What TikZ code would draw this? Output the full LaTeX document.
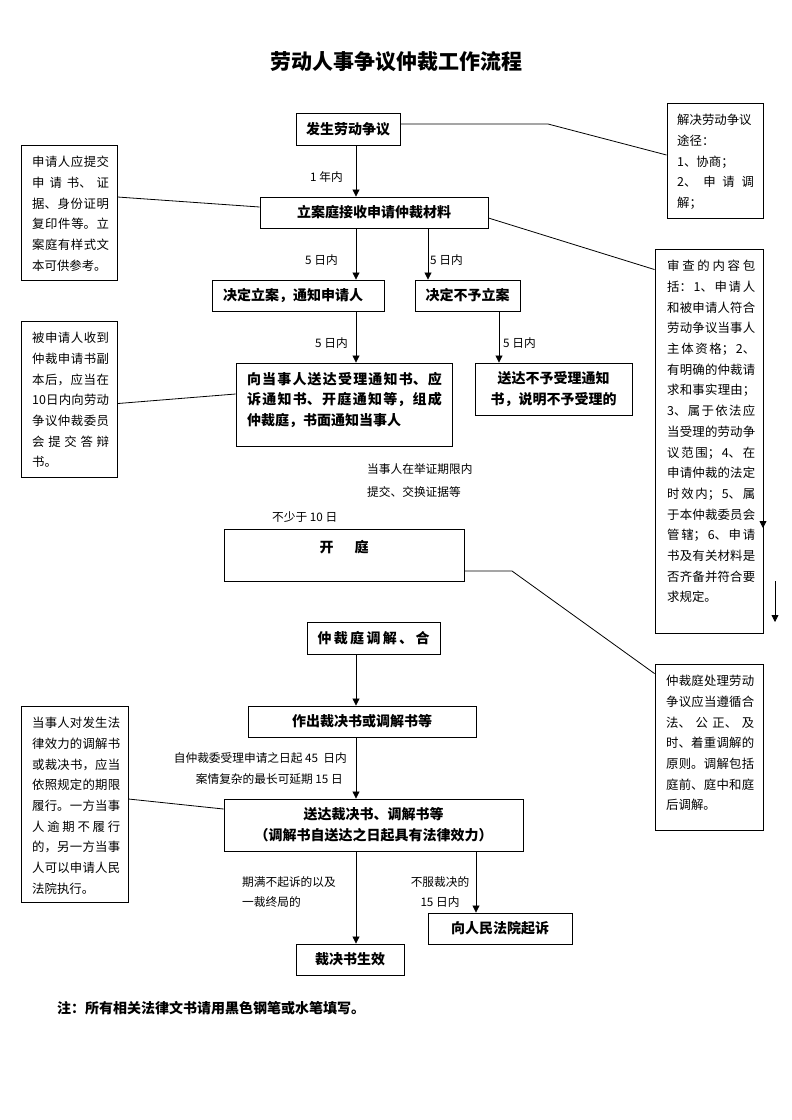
\documentclass[tikz,border=0pt]{standalone}
\usepackage{fontspec}
\setmainfont{Noto Sans CJK SC}
\usetikzlibrary{arrows.meta}
\XeTeXlinebreaklocale "zh"
\XeTeXlinebreakskip=0pt plus 1pt
\setlength{\parindent}{0pt}
\tikzset{
  box/.style={draw=black, line width=0.9pt, inner sep=0pt, font=\bfseries\fontsize{14}{20.5}\selectfont},
  note/.style={draw=black, line width=0.9pt, inner sep=0pt},
  notetext/.style={anchor=north west, inner sep=0pt, align=justify, font=\fontsize{12.4}{20.7}\selectfont},
  lab/.style={inner sep=0pt, font=\fontsize{11.7}{20.5}\selectfont},
  arr/.style={line width=0.8pt, -{Triangle[length=7pt,width=7pt]}},
  conn/.style={line width=0.8pt},
}
\begin{document}
\begin{tikzpicture}[x=1pt,y=-1pt]
\fill[white] (0,0) rectangle (792,1120);
\useasboundingbox (0,0) rectangle (792,1120);

% title
\node[font=\bfseries\fontsize{21}{25}\selectfont] (title) at (396,62) {劳动人事争议仲裁工作流程};

% main boxes
\node[box, minimum width=104pt, minimum height=32pt] (fa) at (348,129) {发生劳动争议};
\node[box, minimum width=228pt, minimum height=31pt] (la) at (374,212.5) {立案庭接收申请仲裁材料};
\node[box, minimum width=172pt, minimum height=31pt] (jd) at (298,295.5) {决定立案，通知申请人\hspace*{10pt}};
\node[box, minimum width=105pt, minimum height=31pt] (bj) at (467.5,295.5) {决定不予立案};
\node[box, minimum width=216pt, minimum height=83pt] (sd) at (344,404.5) {};
\node[inner sep=0pt, text width=195pt, align=justify, font=\bfseries\fontsize{14}{20.5}\selectfont] (sdt) at (344.5,399.5)
  {向当事人送达受理通知书、应\linebreak 诉通知书、开庭通知等，组成\linebreak 仲裁庭，书面通知当事人};
\node[box, minimum width=157pt, minimum height=52pt, align=center, font=\bfseries\fontsize{14}{21}\selectfont] (bs) at (553.5,389) {送达不予受理通知\\书，说明不予受理的};
\node[box, minimum width=240pt, minimum height=52pt] (kt) at (344,555) {};
\node[inner sep=0pt, font=\bfseries\fontsize{14}{17}\selectfont] (ktt) at (344,547) {开\hspace{1.5em}庭};
\node[box, minimum width=133pt, minimum height=32pt] (tj) at (373.5,638) {仲\,裁\,庭\,调\,解\,、\,合};
\node[box, minimum width=228pt, minimum height=31pt] (zc) at (362,721.5) {作出裁决书或调解书等};
\node[box, minimum width=299pt, minimum height=52pt, align=center, font=\bfseries\fontsize{14}{21}\selectfont] (sc) at (373.5,825) {送达裁决书、调解书等\\（调解书自送达之日起具有法律效力）};
\node[box, minimum width=108pt, minimum height=31pt] (sx) at (350,959.5) {裁决书生效};
\node[box, minimum width=144pt, minimum height=31pt] (qs) at (500,928.5) {向人民法院起诉};

% side notes
\node[note, minimum width=96pt, minimum height=135pt] (n1) at (69,212.5) {};
\node[notetext, text width=76.9pt] (n1t) at (32,156)
  {申请人应提交\linebreak 申请书、证\linebreak 据、身份证明\linebreak 复印件等。立\linebreak 案庭有样式文\linebreak 本可供参考。};
\node[note, minimum width=96pt, minimum height=156pt] (n2) at (69,399) {};
\node[notetext, text width=76.9pt] (n2t) at (32,332)
  {被申请人收到\linebreak 仲裁申请书副\linebreak 本后，应当在\linebreak 10日内向劳动\linebreak 争议仲裁委员\linebreak 会提交答辩\linebreak 书。};
\node[note, minimum width=107pt, minimum height=196pt] (n4) at (74.5,804) {};
\node[notetext, text width=88pt] (n4t) at (32,717)
  {当事人对发生法\linebreak 律效力的调解书\linebreak 或裁决书，应当\linebreak 依照规定的期限\linebreak 履行。一方当事\linebreak 人逾期不履行\linebreak 的，另一方当事\linebreak 人可以申请人民\linebreak 法院执行。};
\node[note, minimum width=96pt, minimum height=115pt] (r1) at (715,160.5) {};
\node[notetext, text width=76.9pt] (r1t) at (677,114)
  {解决劳动争议\newline 途径：\newline 1、协商；\newline 2、申请调\linebreak 解；};
\node[note, minimum width=108pt, minimum height=384pt] (r2) at (709,441) {};
\node[notetext, text width=88pt] (r2t) at (667,260)
  {审查的内容包\linebreak 括：1、申请人\linebreak 和被申请人符合\linebreak 劳动争议当事人\linebreak 主体资格；2、\linebreak 有明确的仲裁请\linebreak 求和事实理由；\linebreak 3、属于依法应\linebreak 当受理的劳动争\linebreak 议范围；4、在\linebreak 申请仲裁的法定\linebreak 时效内；5、属\linebreak 于本仲裁委员会\linebreak 管辖；6、申请\linebreak 书及有关材料是\linebreak 否齐备并符合要\linebreak 求规定。};
\node[note, minimum width=108pt, minimum height=166pt] (r3) at (709,747) {};
\node[notetext, text width=88pt] (r3t) at (666,675)
  {仲裁庭处理劳动\linebreak 争议应当遵循合\linebreak 法、公正、及\linebreak 时、着重调解的\linebreak 原则。调解包括\linebreak 庭前、庭中和庭\linebreak 后调解。};

% labels
\node[lab, anchor=west] (l1) at (310,177) {1 年内};
\node[lab, anchor=west] (l2) at (305,260) {5 日内};
\node[lab, anchor=west] (l3) at (430,260) {5 日内};
\node[lab, anchor=west] (l4) at (315,343) {5 日内};
\node[lab, anchor=west] (l5) at (503,343) {5 日内};
\node[lab, anchor=west, align=left, font=\fontsize{11.7}{23}\selectfont] (l6) at (367,480.5) {当事人在举证期限内\\提交、交换证据等};
\node[lab, anchor=west] (l7) at (272,517) {不少于 10 日};
\node[lab, anchor=east, align=right, font=\fontsize{11.7}{21}\selectfont] (l8) at (347,768.5) {自仲裁委受理申请之日起 45\ \ 日内\\案情复杂的最长可延期 15 日\hspace*{4pt}};
\node[lab, anchor=west, align=left] (l9) at (242,892) {期满不起诉的以及\\一裁终局的};
\node[lab, align=center] (l10) at (440,892) {不服裁决的\\15 日内};

% footnote
\node[anchor=west, inner sep=0pt, font=\bfseries\fontsize{14}{17}\selectfont] (foot) at (57,1008) {注：所有相关法律文书请用黑色钢笔或水笔填写。};

% arrows
\coordinate (xa) at (356,0);
\coordinate (xb) at (428,0);
\coordinate (xc) at (499,0);
\coordinate (xd) at (476,0);
\draw[arr] (fa.south -| xa) -- (la.north -| xa);
\draw[arr] (la.south -| xa) -- (jd.north -| xa);
\draw[arr] (la.south -| xb) -- (bj.north -| xb);
\draw[arr] (jd.south -| xa) -- (sd.north -| xa);
\draw[arr] (bj.south -| xc) -- (bs.north -| xc);
\draw[arr] (tj.south -| xa) -- (zc.north -| xa);
\draw[arr] (zc.south -| xa) -- (sc.north -| xa);
\draw[arr] (sc.south -| xa) -- (sx.north -| xa);
\draw[arr] (sc.south -| xd) -- (qs.north -| xd);
\coordinate (s1a) at (763,445);
\coordinate (s1b) at (763,528);
\draw[arr] (s1a) -- (s1b);
\coordinate (s2a) at (775,581);
\coordinate (s2b) at (775,622);
\draw[arr] (s2a) -- (s2b);

% note connectors
\coordinate (b1) at (548,124);
\draw[conn] ([yshift=5pt]fa.east) -- (b1) -- ([yshift=5.5pt]r1.west);
\draw[conn] ([yshift=-5.5pt]la.east) -- ([yshift=-21pt]r2.north west);
\draw[conn] ([yshift=15.5pt]n1.east) -- ([yshift=5.5pt]la.west);
\draw[conn] ([yshift=-83pt]n2.north east) -- ([yshift=10.5pt]sd.west);
\coordinate (b2) at (512,571);
\draw[conn] ([yshift=-16pt]kt.east) -- (b2) -- ([yshift=-10pt]r3.north west);
\draw[conn] ([yshift=5pt]n4.east) -- ([yshift=16pt]sc.west);
\end{tikzpicture}
\end{document}
